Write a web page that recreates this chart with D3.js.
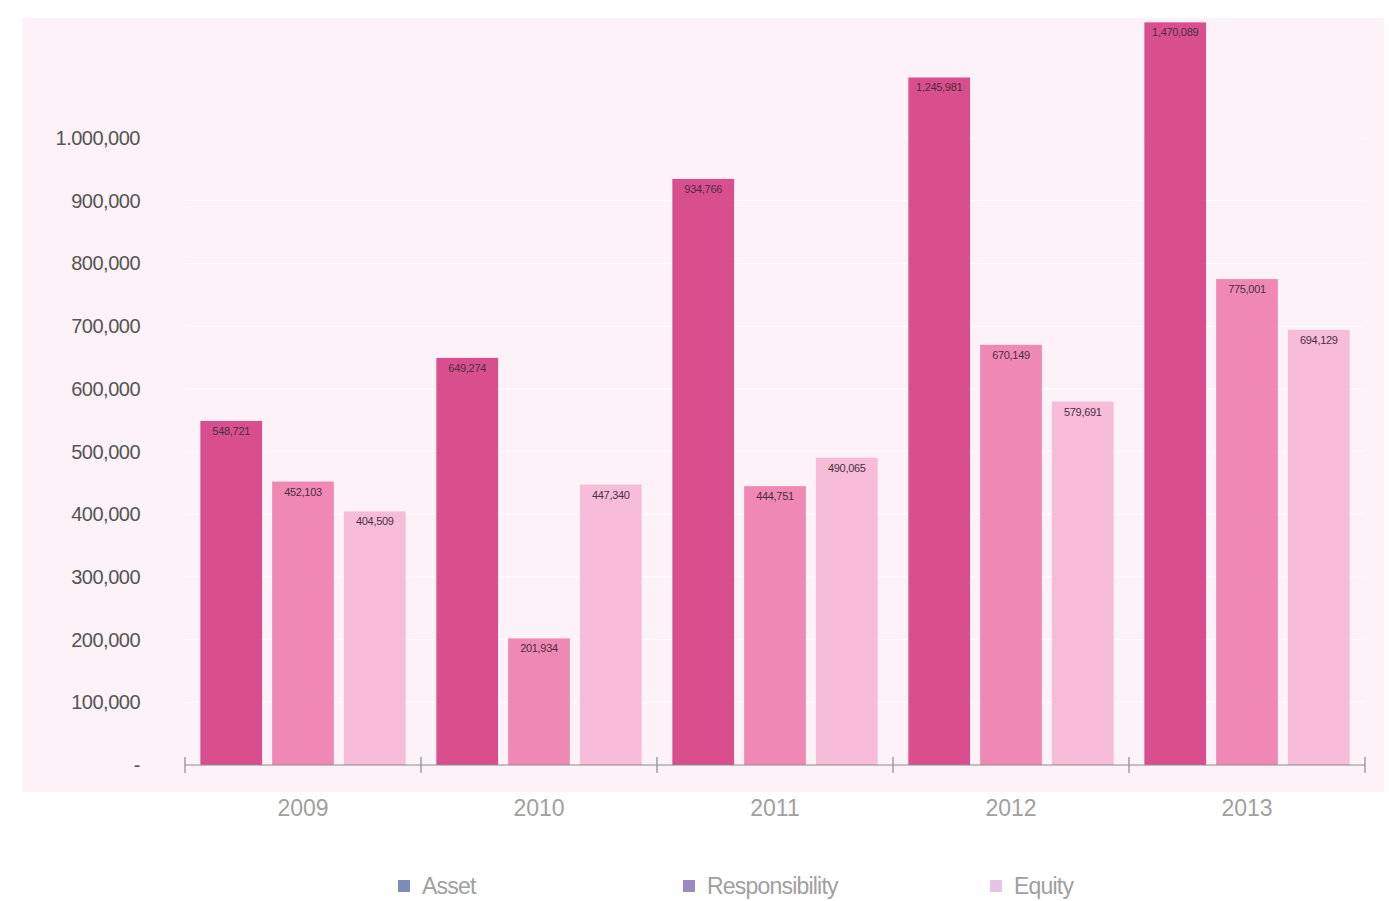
<!DOCTYPE html>
<html>
<head>
<meta charset="utf-8">
<script src="https://cdn.jsdelivr.net/npm/d3@7"></script>
<style>
  html, body { margin: 0; padding: 0; background: #ffffff; }
  svg { display: block; }
</style>
</head>
<body>
<svg id="chart" width="1389" height="901"></svg>
<script>
// ---- data ----
const years = ["2009", "2010", "2011", "2012", "2013"];
const seriesNames = ["Asset", "Responsibility", "Equity"];
const asset = [548721, 649274, 934766, 1245981, 1470089];
const responsibility = [452103, 201934, 444751, 670149, 775001];
const equity = [404509, 447340, 490065, 579691, 694129];
const yTickValues = [0, 100000, 200000, 300000, 400000, 500000, 600000, 700000, 800000, 900000, 1000000];
const yTickLabels = ["-", "100,000", "200,000", "300,000", "400,000", "500,000", "600,000", "700,000", "800,000", "900,000", "1.000,000"];

// ---- styles ----
const barColors = ["#d94f8e", "#f088b4", "#f7bdd8"];
const legendColors = ["#7b8db8", "#9c88c2", "#e4c4e2"];
const font = "'Liberation Sans', 'Helvetica Neue', Arial, sans-serif";

const svg = d3.select("#chart");
const W = 1389, H = 901;

// plot background
svg.append("rect").attr("x", 22).attr("y", 18).attr("width", 1362).attr("height", 774)
  .attr("fill", "#fdf2f7");

const xLeft = 185, xRight = 1365;
// y scale: axis shown to 1,000,000; values above compressed toward the top edge
const y = d3.scaleLinear().domain([0, 1000000, 1500000]).range([765, 138, 15]);

const x0 = d3.scaleBand().domain(years).range([xLeft, xRight]).paddingInner(0.13).paddingOuter(0.065);
const x1 = d3.scaleBand().domain(seriesNames).range([0, x0.bandwidth()]).paddingInner(0.14);

// faint gridlines
svg.append("g").selectAll("line").data(yTickValues.slice(1)).join("line")
  .attr("x1", xLeft).attr("x2", xRight)
  .attr("y1", d => y(d)).attr("y2", d => y(d))
  .attr("stroke", "#ffffff").attr("stroke-width", 1.2).attr("opacity", 0.8);

// y tick labels
svg.append("g").selectAll("text").data(yTickValues).join("text")
  .attr("x", 140).attr("y", d => y(d)).attr("dy", "0.35em")
  .attr("text-anchor", "end")
  .attr("font-family", font).attr("font-size", 20).attr("fill", "#555")
  .attr("letter-spacing", "-0.5")
  .text((d, i) => yTickLabels[i]);

// bars
const table = years.map((yr, i) => ({ year: yr, vals: [asset[i], responsibility[i], equity[i]] }));
const groups = svg.append("g").selectAll("g").data(table).join("g")
  .attr("transform", d => `translate(${x0(d.year)},0)`);

groups.selectAll("rect").data(d => d.vals.map((v, j) => ({ name: seriesNames[j], v, j }))).join("rect")
  .attr("x", d => x1(d.name))
  .attr("y", d => y(d.v))
  .attr("width", x1.bandwidth())
  .attr("height", d => y(0) - y(d.v))
  .attr("fill", d => barColors[d.j]);

const fmt = d3.format(",");
groups.selectAll("text.val").data(d => d.vals.map((v, j) => ({ name: seriesNames[j], v, j }))).join("text")
  .attr("class", "val")
  .attr("x", d => x1(d.name) + x1.bandwidth() / 2)
  .attr("y", d => y(d.v) + 14)
  .attr("text-anchor", "middle")
  .attr("font-family", font).attr("font-size", 11).attr("fill", "#4a3040")
  .attr("letter-spacing", "-0.3")
  .text(d => fmt(d.v));

// x axis
const xAxisG = svg.append("g");
xAxisG.append("line").attr("x1", xLeft).attr("x2", xRight).attr("y1", y(0)).attr("y2", y(0))
  .attr("stroke", "#8a8a8a").attr("stroke-width", 1.2);
const boundaries = [xLeft].concat(years.map(yr => x0(yr) + x0.bandwidth() + x0.step() * x0.paddingInner() / 2));
boundaries[boundaries.length - 1] = xRight;
xAxisG.selectAll("line.tick").data(boundaries).join("line").attr("class", "tick")
  .attr("x1", d => d).attr("x2", d => d).attr("y1", y(0) - 8).attr("y2", y(0) + 8)
  .attr("stroke", "#8a8a8a").attr("stroke-width", 1.2);

svg.append("g").selectAll("text").data(years).join("text")
  .attr("x", d => x0(d) + x0.bandwidth() / 2)
  .attr("y", 808).attr("dy", "0.35em")
  .attr("text-anchor", "middle")
  .attr("font-family", font).attr("font-size", 23).attr("font-weight", 300).attr("fill", "#a0a0a0")
  .text(d => d);

// legend
const legendX = [398, 683, 990];
const leg = svg.append("g").selectAll("g").data(seriesNames).join("g")
  .attr("transform", (d, i) => `translate(${legendX[i]},886)`);
leg.append("rect").attr("x", 0).attr("y", -6).attr("width", 12).attr("height", 12)
  .attr("fill", (d, i) => legendColors[i]);
leg.append("text").attr("x", 24).attr("y", 0).attr("dy", "0.35em")
  .attr("font-family", font).attr("font-size", 23).attr("font-weight", 300).attr("fill", "#a0a0a0")
  .attr("letter-spacing", "-0.8")
  .text(d => d);
</script>
</body>
</html>
